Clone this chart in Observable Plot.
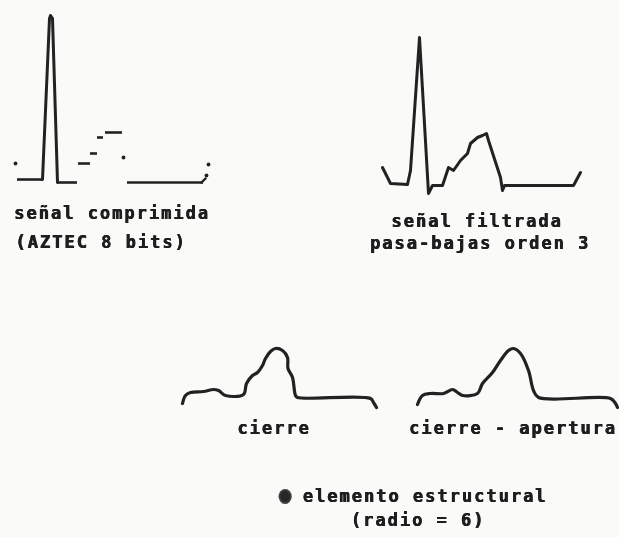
<!DOCTYPE html>
<html>
<head>
<meta charset="utf-8">
<script src="https://cdn.jsdelivr.net/npm/d3@7"></script>
<script src="https://cdn.jsdelivr.net/npm/@observablehq/plot@0.6"></script>
<style>
  html, body { margin: 0; padding: 0; background: #fafaf8; }
  #page { position: relative; width: 619px; height: 537px; overflow: hidden; background: #fafaf8; }
  .panel { position: absolute; }
  .cap { position: absolute; transform: translate(-50%, -50%); white-space: pre;
         font-family: "DejaVu Sans Mono", monospace; font-weight: bold; font-size: 17px;
         letter-spacing: 2px; color: #1e1e1e; filter: blur(0.35px);
         text-shadow: 0.6px 0 0 #1e1e1e, 0 0.4px 0 #1e1e1e; }
  .dot { display: inline-block; width: 13px; height: 15px; border-radius: 50%; background: #262626;
         vertical-align: -2px; margin-right: 11px; box-shadow: inset 0 0 3px #777; }
</style>
</head>
<body>
<div id="page"></div>
<script>
// ---- Data (sample index, amplitude relative to baseline) ----
// Panel 1: AZTEC compressed signal (plateaus + spike)
const aztecPlateaus = [
  {x1: 17, x2: 42, a: 2},
  {x1: 57, x2: 77, a: -1},
  {x1: 78, x2: 90, a: 18},
  {x1: 90, x2: 97, a: 28},
  {x1: 97, x2: 103, a: 44},
  {x1: 105, x2: 122, a: 49},
  {x1: 127, x2: 203, a: -1}
];
const aztecSpike = [
  {x: 42, a: 2}, {x: 49, a: 163}, {x: 50, a: 166}, {x: 52, a: 163}, {x: 57, a: -1}
];
const aztecTail = [{x: 201, a: -1}, {x: 205, a: 3}];
const aztecDots = [
  {x: 15, a: 18}, {x: 123, a: 24}, {x: 208, a: 17}, {x: 206, a: 6}
];

// Panel 2: low-pass filtered signal (order 3)
const filtX = [382, 390, 407, 410, 419, 428, 432, 442, 448, 453, 460, 467, 470, 477, 482, 486, 488, 500, 502, 504, 573, 580];
const filtA = [18, 2, 1, 15, 148, -8, 0, 0, 18, 15, 25, 32, 42, 48, 50, 52, 45, 8, -5, 0, 0, 13];

// Panel 3: closing ("cierre")
const closeX = [182, 185, 190, 203, 213, 218, 225, 243, 246, 252, 257, 262, 265, 270, 275, 282, 287, 287.5, 292, 295, 297, 370, 373, 376];
const closeA = [-6, 2, 5, 6, 8, 7, 2, 3, 14, 22, 25, 32, 39, 46, 49, 47, 40, 29, 20, 2, 0, -1, -5, -10];

// Panel 4: closing - opening ("cierre - apertura")
const coX = [417, 422, 430, 443, 452, 457, 462, 477, 482, 492, 500, 508, 513, 520, 528, 533, 538, 610, 615, 617];
const coA = [-7, 2, 4, 4, 8, 5, 2, 4, 14, 25, 37, 47, 49, 44, 27, 7, 0, -1, -6, -10];

// Captions
const captions = [
  {text: "señal comprimida", x: 112, y: 213},
  {text: "(AZTEC 8 bits)", x: 101, y: 242},
  {text: "señal filtrada", x: 477, y: 221},
  {text: "pasa-bajas orden 3", x: 480, y: 243},
  {text: "cierre", x: 274, y: 428},
  {text: "cierre - apertura", x: 513, y: 428},
  {text: "(radio = 6)", x: 418, y: 520}
];
const legendLabel = "elemento estructural";

// ---- Drawing ----
const page = document.getElementById("page");
const ink = "#222";

function panel({left, top, width, height, xDomain, yDomain, marks}) {
  const svg = Plot.plot({
    width, height, margin: 0,
    style: {background: "transparent", overflow: "visible"},
    x: {domain: xDomain, axis: null},
    y: {domain: yDomain, axis: null},
    marks
  });
  const wrap = document.createElement("div");
  wrap.className = "panel";
  wrap.style.left = left + "px";
  wrap.style.top = top + "px";
  wrap.style.filter = "blur(0.4px)";
  wrap.appendChild(svg);
  page.appendChild(wrap);
}

const toRows = (xs, as) => xs.map((x, i) => ({x, a: as[i]}));

panel({
  left: 0, top: 0, width: 230, height: 200,
  xDomain: [0, 230], yDomain: [-19, 181],
  marks: [
    Plot.ruleY(aztecPlateaus, {x1: "x1", x2: "x2", y: "a", stroke: ink, strokeWidth: 2.6}),
    Plot.line(aztecSpike, {x: "x", y: "a", stroke: ink, strokeWidth: 3, strokeLinejoin: "round"}),
    Plot.line(aztecTail, {x: "x", y: "a", stroke: ink, strokeWidth: 2.4}),
    Plot.dot(aztecDots, {x: "x", y: "a", r: 1.9, fill: ink, stroke: "none"})
  ]
});

panel({
  left: 360, top: 20, width: 240, height: 190,
  xDomain: [360, 600], yDomain: [-25, 165],
  marks: [
    Plot.line(toRows(filtX, filtA), {x: "x", y: "a", stroke: ink, strokeWidth: 3, strokeLinejoin: "round"})
  ]
});

panel({
  left: 170, top: 330, width: 220, height: 90,
  xDomain: [170, 390], yDomain: [-23, 67],
  marks: [
    Plot.line(toRows(closeX, closeA), {x: "x", y: "a", stroke: ink, strokeWidth: 3.2, strokeLinejoin: "round", curve: "catmull-rom"})
  ]
});

panel({
  left: 400, top: 330, width: 219, height: 90,
  xDomain: [400, 619], yDomain: [-23, 67],
  marks: [
    Plot.line(toRows(coX, coA), {x: "x", y: "a", stroke: ink, strokeWidth: 3.2, strokeLinejoin: "round", curve: "catmull-rom"})
  ]
});

for (const c of captions) {
  const d = document.createElement("div");
  d.className = "cap";
  d.textContent = c.text;
  d.style.left = c.x + "px";
  d.style.top = c.y + "px";
  page.appendChild(d);
}
const leg = document.createElement("div");
leg.className = "cap";
leg.style.left = "413px";
leg.style.top = "496px";
leg.innerHTML = '<span class="dot"></span>' + legendLabel;
page.appendChild(leg);
</script>
</body>
</html>
